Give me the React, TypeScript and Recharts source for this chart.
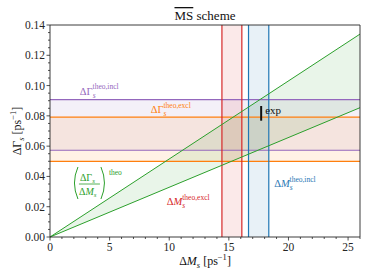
import {
  ComposedChart,
  Area,
  Line,
  XAxis,
  YAxis,
  ReferenceArea,
  ReferenceLine,
  ReferenceDot,
} from "recharts";

// theory wedge (dGamma / dM ratio), endpoints
const dMsPoints = [0, 26];
const ratioUpper = [0, 0.134];
const ratioLower = [0, 0.0854];

// horizontal bands: dGamma_s theo
const dGammaIncl = [0.0573, 0.0907];
const dGammaExcl = [0.05, 0.0791];

// vertical bands: dM_s theo
const dMsExcl = [14.42, 16.09];
const dMsIncl = [16.65, 18.35];

// experimental point
const expDMs = 17.71;
const expDGamma = [0.0768, 0.0865];

const xMajor = [0, 5, 10, 15, 20, 25];
const xAllTicks = [0, 1, 2, 3, 4, 5, 6, 7, 8, 9, 10, 11, 12, 13, 14, 15, 16, 17, 18, 19, 20, 21, 22, 23, 24, 25, 26];
const yMajor = [0, 0.02, 0.04, 0.06, 0.08, 0.1, 0.12, 0.14];
const yAllTicks = [
  0, 0.005, 0.01, 0.015, 0.02, 0.025, 0.03, 0.035, 0.04, 0.045, 0.05, 0.055, 0.06, 0.065, 0.07,
  0.075, 0.08, 0.085, 0.09, 0.095, 0.1, 0.105, 0.11, 0.115, 0.12, 0.125, 0.13, 0.135, 0.14,
];

const C = {
  purple: "#9467bd",
  orange: "#ff7f0e",
  red: "#d62728",
  blue: "#1f77b4",
  green: "#2ca02c",
  axis: "#262626",
};
const FONT = "'Liberation Serif', 'DejaVu Serif', serif";

const data = dMsPoints.map((x, i) => ({
  dMs: x,
  hi: ratioUpper[i],
  lo: ratioLower[i],
  band: [ratioLower[i], ratioUpper[i]],
}));

const isIn = (arr: number[], v: number) => arr.some((m) => Math.abs(m - v) < 1e-9);

// eslint-disable-next-line @typescript-eslint/no-explicit-any
const XTick = (props: any) => {
  const { x, y, payload } = props;
  const v = payload.value;
  const major = isIn(xMajor, v);
  return (
    <g>
      <line x1={x} x2={x} y1={y} y2={y + (major ? 3.5 : 2)} stroke={C.axis} strokeWidth={0.8} />
      {major && (
        <text x={x} y={y + 13.5} textAnchor="middle" fontSize={11.5} fontFamily={FONT} fill={C.axis}>
          {v}
        </text>
      )}
    </g>
  );
};

// eslint-disable-next-line @typescript-eslint/no-explicit-any
const YTick = (props: any) => {
  const { x, y, payload } = props;
  const v = payload.value;
  const major = isIn(yMajor, v);
  return (
    <g>
      <line x1={x - (major ? 3.5 : 2)} x2={x} y1={y} y2={y} stroke={C.axis} strokeWidth={0.8} />
      {major && (
        <text x={x - 5} y={y + 4} textAnchor="end" fontSize={11.5} fontFamily={FONT} fill={C.axis}>
          {v.toFixed(2)}
        </text>
      )}
    </g>
  );
};

// label "Δ<main>_s^{sup}"
function subSupLabel(main: React.ReactNode, sup: string, color: string) {
  // eslint-disable-next-line @typescript-eslint/no-explicit-any
  return (p: any) => (
    <text x={p.cx} y={p.cy} fill={color} fontFamily={FONT} fontSize={10.5}>
      {main}
      <tspan fontStyle="italic" fontSize={7.5} dy={3}>s</tspan>
      <tspan fontSize={7.5} dx={-3} dy={-8.5}>{sup}</tspan>
    </text>
  );
}

// eslint-disable-next-line @typescript-eslint/no-explicit-any
const RatioLabel = (p: any) => {
  const { cx, cy } = p;
  return (
    <g fill={C.green} fontFamily={FONT}>
      <path d={`M${cx + 6},${cy - 17} Q${cx - 1},${cy - 1} ${cx + 6},${cy + 15}`} stroke={C.green} strokeWidth={1} fill="none" />
      <text x={cx + 8} y={cy - 3} fontSize={10}>
        ΔΓ<tspan fontStyle="italic" fontSize={7} dy={2}>s</tspan>
      </text>
      <line x1={cx + 7} x2={cx + 28} y1={cy} y2={cy} stroke={C.green} strokeWidth={0.8} />
      <text x={cx + 7} y={cy + 11} fontSize={10}>
        Δ<tspan fontStyle="italic">M</tspan>
        <tspan fontStyle="italic" fontSize={7} dy={2}>s</tspan>
      </text>
      <path d={`M${cx + 29},${cy - 17} Q${cx + 36},${cy - 1} ${cx + 29},${cy + 15}`} stroke={C.green} strokeWidth={1} fill="none" />
      <text x={cx + 37} y={cy - 9} fontSize={7.5}>theo</text>
    </g>
  );
};

// eslint-disable-next-line @typescript-eslint/no-explicit-any
const ExpLabel = (p: any) => (
  <text x={p.cx} y={p.cy} fontFamily={FONT} fontSize={11} fill="#111">exp</text>
);

export default function App() {
  return (
    <div style={{ position: "relative", width: 374, height: 280, background: "#fff" }}>
      <style>{`body{margin:0}`}</style>
      <ComposedChart width={374} height={280} data={data} margin={{ top: 25, right: 14, bottom: 0, left: 0 }}>
        <XAxis
          type="number"
          dataKey="dMs"
          domain={[0, 26]}
          ticks={xAllTicks}
          interval={0}
          height={43}
          tickSize={0}
          tickMargin={0}
          tickLine={false}
          tick={<XTick />}
          axisLine={{ stroke: C.axis, strokeWidth: 0.9 }}
        />
        <YAxis
          type="number"
          domain={[0, 0.14]}
          ticks={yAllTicks}
          interval={0}
          width={50}
          tickSize={0}
          tickMargin={0}
          tickLine={false}
          tick={<YTick />}
          axisLine={{ stroke: C.axis, strokeWidth: 0.9 }}
        />

        {/* horizontal dGamma bands */}
        <ReferenceArea y1={dGammaIncl[0]} y2={dGammaIncl[1]} fill={C.purple} fillOpacity={0.1} stroke="none" />
        <ReferenceArea y1={dGammaExcl[0]} y2={dGammaExcl[1]} fill={C.orange} fillOpacity={0.1} stroke="none" />
        <ReferenceLine y={dGammaIncl[0]} stroke={C.purple} strokeWidth={1.2} />
        <ReferenceLine y={dGammaIncl[1]} stroke={C.purple} strokeWidth={1.2} />
        <ReferenceLine y={dGammaExcl[0]} stroke={C.orange} strokeWidth={1.2} />
        <ReferenceLine y={dGammaExcl[1]} stroke={C.orange} strokeWidth={1.2} />

        {/* vertical dM bands */}
        <ReferenceArea x1={dMsExcl[0]} x2={dMsExcl[1]} fill={C.red} fillOpacity={0.1} stroke="none" />
        <ReferenceArea x1={dMsIncl[0]} x2={dMsIncl[1]} fill={C.blue} fillOpacity={0.1} stroke="none" />
        <ReferenceLine x={dMsExcl[0]} stroke={C.red} strokeWidth={1.2} />
        <ReferenceLine x={dMsExcl[1]} stroke={C.red} strokeWidth={1.2} />
        <ReferenceLine x={dMsIncl[0]} stroke={C.blue} strokeWidth={1.2} />
        <ReferenceLine x={dMsIncl[1]} stroke={C.blue} strokeWidth={1.2} />

        {/* theory wedge */}
        <Area type="linear" dataKey="band" fill={C.green} fillOpacity={0.1} stroke="none" isAnimationActive={false} />
        <Line type="linear" dataKey="hi" stroke={C.green} strokeWidth={1} dot={false} isAnimationActive={false} />
        <Line type="linear" dataKey="lo" stroke={C.green} strokeWidth={1} dot={false} isAnimationActive={false} />

        {/* experiment */}
        <ReferenceLine
          segment={[
            { x: expDMs, y: expDGamma[0] },
            { x: expDMs, y: expDGamma[1] },
          ]}
          stroke="#111"
          strokeWidth={2}
        />
        <ReferenceDot x={18.05} y={0.0812} r={0} shape={ExpLabel} />

        {/* frame */}
        <ReferenceLine y={0.14} stroke={C.axis} strokeWidth={0.9} />
        <ReferenceLine x={26} stroke={C.axis} strokeWidth={0.9} />

        {/* annotations */}
        <ReferenceDot x={2.5} y={0.094} r={0} shape={subSupLabel(<tspan>ΔΓ</tspan>, "theo,incl", C.purple)} />
        <ReferenceDot x={8.45} y={0.0818} r={0} shape={subSupLabel(<tspan>ΔΓ</tspan>, "theo,excl", C.orange)} />
        <ReferenceDot x={9.8} y={0.0211} r={0} shape={subSupLabel(<tspan>Δ<tspan fontStyle="italic">M</tspan></tspan>, "theo,excl", C.red)} />
        <ReferenceDot x={18.8} y={0.033} r={0} shape={subSupLabel(<tspan>Δ<tspan fontStyle="italic">M</tspan></tspan>, "theo,incl", C.blue)} />
        <ReferenceDot x={1.84} y={0.035} r={0} shape={RatioLabel} />
      </ComposedChart>

      <svg width={374} height={280} style={{ position: "absolute", left: 0, top: 0, pointerEvents: "none" }}>
        <text x={205} y={20} textAnchor="middle" fontFamily={FONT} fontSize={13} fill="#111">
          <tspan textDecoration="overline">MS</tspan> scheme
        </text>
        <text x={205} y={265} textAnchor="middle" fontFamily={FONT} fontSize={12} fill="#111">
          Δ<tspan fontStyle="italic">M</tspan>
          <tspan fontStyle="italic" fontSize={8.5} dy={3}>s</tspan>
          <tspan dy={-3}> [ps</tspan>
          <tspan fontSize={8.5} dy={-5}>−1</tspan>
          <tspan dy={5}>]</tspan>
        </text>
        <text transform="translate(21,131) rotate(-90)" textAnchor="middle" fontFamily={FONT} fontSize={12} fill="#111">
          ΔΓ
          <tspan fontStyle="italic" fontSize={8.5} dy={3}>s</tspan>
          <tspan dy={-3}> [ps</tspan>
          <tspan fontSize={8.5} dy={-5}>−1</tspan>
          <tspan dy={5}>]</tspan>
        </text>
      </svg>
    </div>
  );
}
